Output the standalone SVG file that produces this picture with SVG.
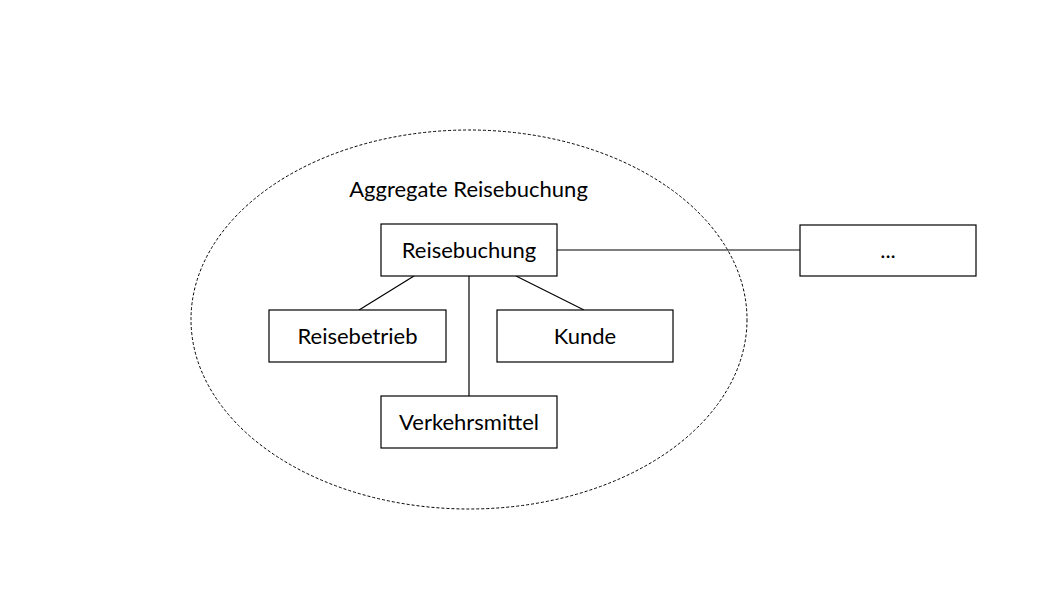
<svg xmlns="http://www.w3.org/2000/svg" width="1054" height="591" viewBox="0 0 1054 591">
<style>
.box{fill:#fff;stroke:#000;stroke-width:1.2}
.lbl{font-family:Lato,"Open Sans","Liberation Sans",sans-serif;font-size:22px;fill:#000;text-anchor:middle}
.conn{stroke:#000;stroke-width:1.2;fill:none}
</style>
<rect width="1054" height="591" fill="#fff"/>
<g id="aggregate">
<ellipse cx="469" cy="319.5" rx="278" ry="189.5" fill="none" stroke="#000" stroke-width="1" stroke-dasharray="3,2"/>
<text class="lbl" x="468.5" y="197">Aggregate Reisebuchung</text>
</g>
<g id="connectors">
<line class="conn" x1="557" y1="250" x2="800" y2="250"/>
<line class="conn" x1="414" y1="276" x2="359" y2="310"/>
<line class="conn" x1="516" y1="276" x2="584" y2="310"/>
<line class="conn" x1="469" y1="276" x2="469" y2="396"/>
</g>
<g id="reisebuchung">
<rect class="box" x="381" y="224" width="176" height="52"/>
<text class="lbl" x="469" y="257.5">Reisebuchung</text>
</g>
<g id="reisebetrieb">
<rect class="box" x="269" y="310" width="177" height="52"/>
<text class="lbl" x="357.5" y="343.5">Reisebetrieb</text>
</g>
<g id="kunde">
<rect class="box" x="497" y="310" width="176" height="52"/>
<text class="lbl" x="585" y="343.5">Kunde</text>
</g>
<g id="verkehrsmittel">
<rect class="box" x="381" y="396" width="176" height="52"/>
<text class="lbl" x="469" y="429.5">Verkehrsmittel</text>
</g>
<g id="more">
<rect class="box" x="800" y="225" width="176" height="51"/>
<text class="lbl" x="888" y="258">...</text>
</g>
</svg>
